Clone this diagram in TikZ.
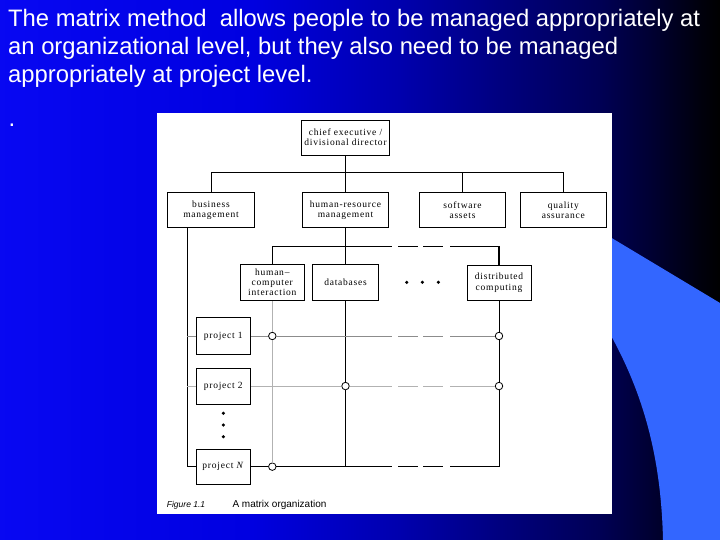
\documentclass[tikz,border=0pt]{standalone}
\usepackage{fontspec}
\setmainfont{Liberation Serif}
\newfontfamily\slidefont{Liberation Sans}
\newfontfamily\boxfont[LetterSpace=8]{Liberation Serif}
\usetikzlibrary{positioning}

\pgfdeclarehorizontalshading{slidebg}{100bp}{rgb(0bp)=(0.03,0.03,0.95); rgb(25bp)=(0.03,0.03,0.95); rgb(42.4bp)=(0,0,0.88); rgb(52.8bp)=(0,0,0.68); rgb(59.7bp)=(0,0,0.5); rgb(66.7bp)=(0,0,0.33); rgb(70.1bp)=(0,0,0.2); rgb(73.6bp)=(0,0,0.05); rgb(75bp)=(0,0,0); rgb(100bp)=(0,0,0)}
\definecolor{slideblue}{RGB}{51,102,255}

\begin{document}
\begin{tikzpicture}[x=1pt, y=-1pt,
        unit/.style={rectangle, draw, line width=0.9pt, fill=white, align=center, inner sep=1pt, font=\boxfont\fontsize{9.5}{10.2}\selectfont},
        junction/.style={circle, draw, line width=0.8pt, fill=white, inner sep=0pt, minimum size=7.5pt},
        spot/.style={circle, fill, inner sep=0pt, minimum size=3.5pt},
        heavy/.style={line width=1.5pt},
        plain/.style={line width=0.9pt},
        greyline/.style={line width=0.9pt, black!45},
        faint/.style={line width=0.6pt, black!30},
        gap/.style={dash pattern=on 20pt off 5pt},
        title/.style={anchor=base west, text=white, inner sep=0pt, font=\slidefont\fontsize{23.8}{28}\selectfont}]
        \useasboundingbox (0,0) rectangle (720,540);
        % slide background
        \shade[shading=slidebg] (0,0) rectangle (720,540);
        \fill[slideblue] (590,225) -- (720,303) -- (720,540) -- (663,540) .. controls (661,450) and (640,385) .. (605,325) -- cycle;
        \fill[white] (157,113) rectangle (612,514);

        \node[title] (title1) at (8,26.7) {The matrix method\ \ allows people to be managed appropriately at};
        \node[title] (title2) at (8,54.5) {an organizational level, but they also need to be managed};
        \node[title] (title3) at (8,82.7) {appropriately at project level.};
        \node[title] (stop) at (8.5,127) {.};

        % organization
        \node[unit, minimum width=88pt, minimum height=35pt] (chief) at (345.5,137.5) {chief executive /\\divisional director};
        \node[unit, minimum width=87pt, minimum height=35pt] (busmgmt) at (211,210) {business\\management};
        \node[unit, minimum width=86pt, minimum height=35pt] (hrmgmt) at (345.5,210) {human-resource\\management};
        \node[unit, minimum width=86pt, minimum height=35pt] (swassets) at (462.5,210) {software\\assets};
        \node[unit, minimum width=86.7pt, minimum height=35pt] (quality) at (563.3,210) {quality\\assurance};

        \node[unit, minimum width=64pt, minimum height=36.4pt] (hci) at (272.3,282.5) {human–\\computer\\interaction};
        \node[unit, minimum width=65.4pt, minimum height=36.4pt] (db) at (345.5,282.5) {databases};
        \node[unit, minimum width=64pt, minimum height=35.7pt] (dc) at (499,282.8) {distributed\\computing};

        \node[unit, minimum width=54.7pt, minimum height=36.3pt] (p1) at (223.3,336) {project 1};
        \node[unit, minimum width=54.7pt, minimum height=36pt, below=13pt of p1] (p2) {project 2};
        \node[unit, minimum width=54.7pt, minimum height=35.4pt, below=44pt of p2] (pN) {project \textit{N}};

        \coordinate (topbus) at (0,172.7);
        \coordinate (midbus) at (0,246.7);
        \coordinate (rail) at (187,0);
        \coordinate (gapL) at (392,0);
        \coordinate (dashA) at (398,0);
        \coordinate (dashB) at (443,0);
        \coordinate (gapR) at (450,0);

        \node[junction] (j1a) at (hci |- p1) {};
        \node[junction] (j1b) at (dc |- p1) {};
        \node[junction] (j2a) at (db |- p2) {};
        \node[junction] (j2b) at (dc |- p2) {};
        \node[junction] (jNa) at (hci |- pN) {};

        \foreach \x/\n in {406.7/a, 422.3/b, 438.3/c}
            \node[spot] (dot\n) at (\x,282.3) {};
        \foreach \y/\n in {413.3/d, 425/e, 436.7/f}
            \node[spot] (dot\n) at (223.3,\y) {};

        % lines of authority
        \draw[plain] (busmgmt.north) |- (quality.north |- topbus) -- (quality.north);
        \draw[plain] (chief.south) -- (hrmgmt.north);
        \draw[plain] (swassets.north) -- (swassets.north |- topbus);
        \draw[plain] (rail |- busmgmt.south) -- (rail |- pN) -- (pN.west);
        \draw[greyline] (rail |- p1) -- (p1.west);
        \draw[faint] (rail |- p2) -- (p2.west);

        \draw[heavy] (hci.north) |- (gapL |- midbus);
        \draw[heavy, gap] (dashA |- midbus) -- (dashB |- midbus);
        \draw[heavy] (gapR |- midbus) -| (dc.north);

        \draw[faint] (hci.south) -- (j1a);
        \draw[faint] (j1a) -- (jNa);
        \draw[heavy] (hrmgmt.south) -- (db.north);
        \draw[heavy] (db.south) -- (j2a) -- (db |- pN);
        \draw[plain] (dc.south) -- (j1b) -- (j2b) -- (dc |- pN);

        % project rows
        \draw[greyline] (p1.east) -- (j1a) (j1a) -- (gapL |- p1);
        \draw[greyline, gap] (dashA |- p1) -- (dashB |- p1);
        \draw[greyline] (gapR |- p1) -- (j1b);
        \draw[faint] (p2.east) -- (j2a) (j2a) -- (gapL |- p2);
        \draw[faint, gap] (dashA |- p2) -- (dashB |- p2);
        \draw[faint] (gapR |- p2) -- (j2b);
        \draw[heavy] (pN.east) -- (jNa) (jNa) -- (gapL |- pN);
        \draw[heavy, gap] (dashA |- pN) -- (dashB |- pN);
        \draw[heavy] (gapR |- pN) -- (dc |- pN);

        \node[anchor=base west, inner sep=0pt, font=\slidefont\itshape\fontsize{8.5}{10}\selectfont] (figno) at (166.7,507.5) {Figure 1.1};
        \node[anchor=base west, inner sep=0pt, font=\slidefont\fontsize{10}{11}\selectfont] (figcap) at (232.3,507.5) {A matrix organization};
\end{tikzpicture}
\end{document}
